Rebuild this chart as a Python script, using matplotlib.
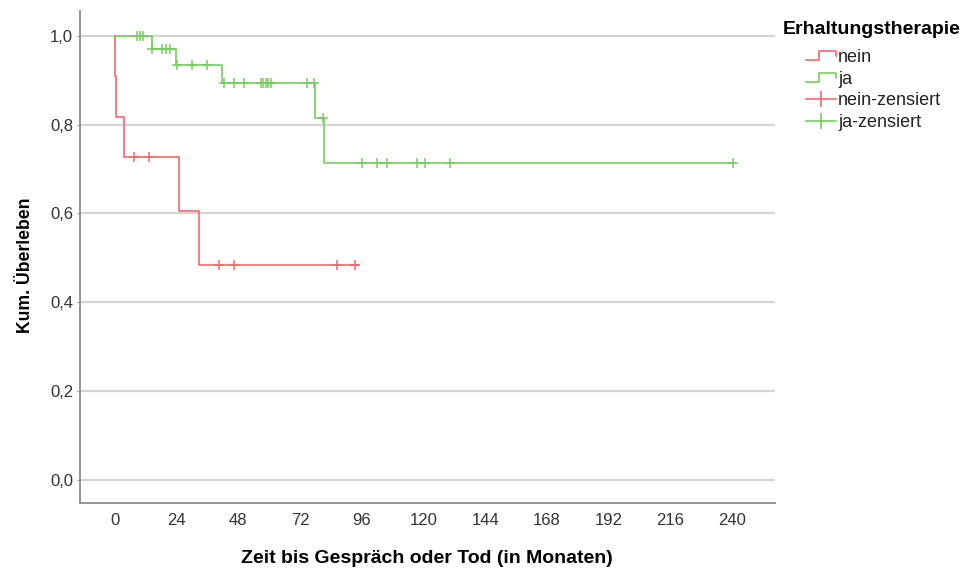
import numpy as np
import matplotlib
matplotlib.use('Agg')
import matplotlib.pyplot as plt
from matplotlib.lines import Line2D
from matplotlib.legend_handler import HandlerBase
from matplotlib.ticker import FuncFormatter

plt.rcParams['font.family'] = ['Liberation Sans', 'DejaVu Sans']

# ==== Daten ====
# Ereigniszeitpunkte (Monate) und Überlebensschätzer nach dem Ereignis
nein_event_t = [0.0, 0.4, 3.6, 25.0, 32.8]
nein_surv = [0.909, 0.818, 0.727, 0.606, 0.485]
nein_end = 94.5
nein_cens_t = [7.5, 13.3, 40.6, 46.4, 86.5, 93.3]

ja_event_t = [14.3, 23.6, 41.8, 77.8, 81.4]
ja_surv = [0.970, 0.935, 0.893, 0.815, 0.713]
ja_end = 240.5
ja_cens_t = [8.4, 9.7, 11.0, 14.3, 18.2, 19.8, 21.4, 24.0, 30.0, 35.8,
             42.4, 46.3, 50.3, 56.8, 57.7, 58.7, 59.6, 60.7, 74.8,
             77.5, 81.0, 96.2, 102.0, 105.9, 117.6, 120.6, 130.3, 240.5]

x_ticks = [0, 24, 48, 72, 96, 120, 144, 168, 192, 216, 240]
y_ticks = [0.0, 0.2, 0.4, 0.6, 0.8, 1.0]

RED = '#f26a6a'
GREEN = '#76cd5e'


def step_curve(event_t, surv, t_end):
    xs = [0.0]
    ys = [1.0]
    for t, s in zip(event_t, surv):
        xs += [t, t]
        ys += [ys[-1], s]
    xs.append(t_end)
    ys.append(ys[-1])
    return np.array(xs), np.array(ys)


def surv_at(event_t, surv, t):
    s = 1.0
    for et, sv in zip(event_t, surv):
        if et <= t:
            s = sv
    return s


class HandlerStep(HandlerBase):
    def create_artists(self, legend, orig_handle, xdescent, ydescent,
                       width, height, fontsize, trans):
        xs = np.array([0, 0.42, 0.42, 1.0, 1.0]) * width - xdescent
        ys = np.array([0.15, 0.15, 0.85, 0.85, 0.45]) * height - ydescent
        line = Line2D(xs, ys, color=orig_handle.get_color(), lw=1.2, transform=trans)
        return [line]


fig = plt.figure(figsize=(9.67, 5.72), dpi=100)
ax = fig.add_axes([0.0827, 0.1206, 0.7187, 0.8602])

for ev, sv, te, ct, col in [(nein_event_t, nein_surv, nein_end, nein_cens_t, RED),
                            (ja_event_t, ja_surv, ja_end, ja_cens_t, GREEN)]:
    xs, ys = step_curve(ev, sv, te)
    ax.plot(xs, ys, color=col, lw=1.2, zorder=3)
    cy = [surv_at(ev, sv, t) for t in ct]
    ax.plot(ct, cy, linestyle='none', marker='+', markersize=7,
            markeredgewidth=1.1, color=col, zorder=4)

ax.set_xlim(-13.6, 256.7)
ax.set_ylim(-0.052, 1.056)
ax.set_xticks(x_ticks)
ax.set_yticks(y_ticks)
ax.yaxis.set_major_formatter(FuncFormatter(lambda v, p: f'{v:.1f}'.replace('.', ',')))
ax.tick_params(axis='x', length=0, pad=7, labelsize=12, labelcolor='#333333')
ax.tick_params(axis='y', length=2, pad=3, labelsize=12, labelcolor='#333333',
               width=0.8, color='#999999')

ax.grid(axis='y', color='#d4d4d4', lw=1.6, zorder=0)
ax.set_axisbelow(True)
for s in ['top', 'right']:
    ax.spines[s].set_visible(False)
for s in ['left', 'bottom']:
    ax.spines[s].set_color('#8c8c8c')
    ax.spines[s].set_linewidth(1.3)

ax.set_xlabel('Zeit bis Gespräch oder Tod (in Monaten)', fontsize=14, fontweight='bold',
              va='center')
ax.xaxis.set_label_coords(0.499, -0.112)
ax.set_ylabel('Kum. Überleben', fontsize=12.7, fontweight='bold', va='center')
ax.yaxis.set_label_coords(-0.078, 0.484)

# ==== Legende ====
fig.text(783 / 967, 1 - 30 / 572, 'Erhaltungstherapie', fontsize=14, fontweight='bold',
         ha='left', va='center')
h_nein = Line2D([], [], color=RED)
h_ja = Line2D([], [], color=GREEN)
h_nein_c = Line2D([], [], color=RED, lw=1.2, marker='|', markersize=11, markeredgewidth=1.2)
h_ja_c = Line2D([], [], color=GREEN, lw=1.2, marker='|', markersize=11, markeredgewidth=1.2)
fig.legend([h_nein, h_ja, h_nein_c, h_ja_c],
           ['nein', 'ja', 'nein-zensiert', 'ja-zensiert'],
           handler_map={h_nein: HandlerStep(), h_ja: HandlerStep()},
           loc='upper left', bbox_to_anchor=(806 / 967, 1 - 49 / 572),
           frameon=False, fontsize=13, borderpad=0, borderaxespad=0,
           handlelength=1.67, handletextpad=0.1, labelspacing=0.26,
           labelcolor='#222222')

fig.savefig('out.png', dpi=100)
